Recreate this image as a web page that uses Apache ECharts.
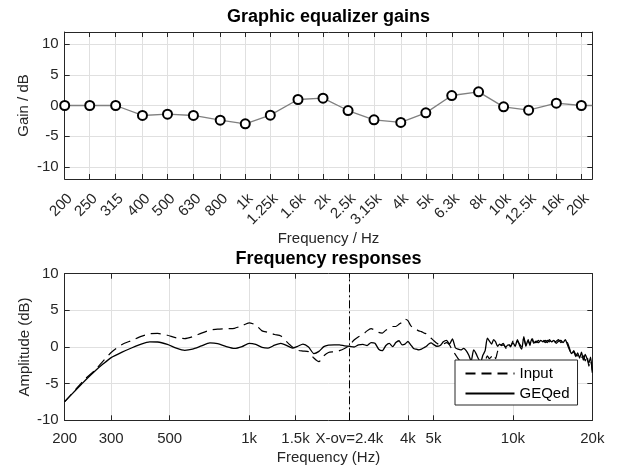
<!DOCTYPE html>
<html><head><meta charset="utf-8">
<script src="https://cdn.jsdelivr.net/npm/echarts@6/dist/echarts.min.js"></script>
<style>html,body{margin:0;padding:0;background:#fff}#c{width:618px;height:470px}</style>
</head><body><div id="c"></div>
<script>
// ---- Graphic equalizer gains ----
const gainFreqs = [200,250,315,400,500,630,800,1000,1250,1600,2000,2500,3150,4000,5000,6300,8000,10000,12500,16000,20000];
const gainLabels = ['200','250','315','400','500','630','800','1k','1.25k','1.6k','2k','2.5k','3.15k','4k','5k','6.3k','8k','10k','12.5k','16k','20k'];
const gainValues = [0,0,0,-1.63,-1.41,-1.63,-2.39,-2.99,-1.58,0.98,1.2,-0.82,-2.34,-2.77,-1.2,1.63,2.23,-0.22,-0.76,0.38,0];
const edgeFreq = 22050;
const edgeGain = 0;
const gainTicks = [-10,-5,0,5,10];

// ---- Frequency responses ----
const respFreqs = [
  200,220,240,260,280,300,330,360,390,420,
  450,490,530,570,610,660,710,760,820,880,
  940,1000,1060,1120,1180,1250,1320,1390,1460,1530,
  1600,1680,1760,1840,1920,2000,2100,2200,2300,2400,
  2500,2600,2700,2800,2900,3000,3100,3200,3300,3400,
  3500,3600,3700,3800,3900,4000,4100,4200,4300,4400,
  4500,4600,4700,4800,4900,5000,5150,5300,5450,5600,
  5750,5900,6050,6200,6350,6500,6650,6800,6950,7100,
  7250,7400,7550,7700,7850,8000,8150,8300,8450,8600,
  8750,8900,9050,9200,9400,9600,9800,10000,10200,10400,
  10600,10800,11000,11200,11400,11600,11800,12000,12250,12500,
  12750,13000,13250,13500,13750,14000,14300,14600,14900,15200,
  15500,15800,16100,16400,16700,17000,17300,17600,17900,18200,
  18500,18800,19100,19400,19700,20000];
const inputDb = [
  -7.45,-5.8,-4.3,-3.2,-1.9,-0.75,0.35,0.9,1.45,1.8,
  1.85,1.6,1.25,1.15,1.4,1.9,2.3,2.45,2.5,2.55,
  2.9,3.3,3.0,2.2,2.0,1.7,1.5,0.7,0.0,-0.45,
  -0.55,-0.65,-1.5,-2.0,-1.2,-0.75,-0.65,-0.5,-0.2,0.25,
  0.95,1.4,1.7,2.2,2.5,2.3,2.0,1.9,2.3,2.6,
  2.8,2.8,3.1,3.4,3.8,3.6,2.9,2.6,2.4,2.2,
  2.1,1.9,1.8,1.5,1.2,0.9,0.5,0.3,0.4,0.6,
  0.3,-0.5,-1.0,-1.6,-2.0,-2.3,-2.0,-2.5,-2.2,-2.6,
  -2.3,-2.0,-2.4,-2.1,-1.9,-1.2,-1.6,-1.3,-1.0,-1.6,
  -0.6,-0.2,0.3,0.5,-0.2,0.5,0.0,0.8,0.3,0.8,
  0.4,0.0,1.2,0.3,1.1,0.2,1.3,0.7,0.6,0.9,
  0.7,1.0,0.6,0.9,0.7,1.0,0.6,0.8,1.0,0.6,
  0.9,0.7,0.6,-0.2,-1.1,-0.5,-1.0,-1.2,-0.9,-1.4,
  -1.2,-1.9,-1.2,-2.6,-1.8,-3.2];
const geqDb = [
  -7.45,-5.9,-4.5,-3.3,-2.3,-1.45,-0.7,-0.1,0.4,0.7,
  0.68,0.35,-0.15,-0.45,-0.3,0.15,0.55,0.45,0.05,-0.2,
  0.05,0.5,0.35,-0.05,-0.15,0.25,0.5,0.2,-0.15,0.1,
  0.4,0.0,-0.9,-0.6,0.05,0.25,0.3,0.3,0.15,0.1,
  0.0,0.3,0.35,0.2,0.6,0.5,-0.3,-0.5,0.2,0.5,
  0.05,0.6,0.85,0.3,0.4,0.75,0.3,-0.2,-0.3,-0.4,
  -0.3,-0.1,0.1,0.4,0.55,0.35,0.1,0.2,0.7,0.9,
  0.4,1.1,-0.1,-0.3,-0.4,-0.2,-0.5,-1.1,-1.9,-0.4,
  -0.9,-1.6,-2.0,-1.1,-0.5,1.2,0.8,0.4,1.0,0.7,
  0.1,0.4,0.2,0.3,0.0,0.3,0.15,0.6,0.1,1.0,
  0.2,-0.3,1.4,0.1,0.9,0.4,1.1,0.5,0.8,0.6,
  0.9,0.7,0.9,0.6,1.0,0.7,0.9,0.5,0.8,0.9,
  0.6,1.0,0.3,-0.4,-0.9,-0.6,-1.3,-0.8,-1.5,-0.7,
  -1.8,-1.0,-1.6,-2.2,-1.4,-3.5];
const respTickFreqs = [200,300,500,1000,1500,2400,4000,5000,10000,20000];
const respTickLabels = ['200','300','500','1k','1.5k','X-ov=2.4k','4k','5k','10k','20k'];
const crossoverFreq = 2400;
const ampTicks = [-10,-5,0,5,10];

// ---- build ----
const lg = Math.log10;
const FONT = "'Liberation Sans', Arial, Helvetica, sans-serif";
const AX = '#262626';
const GRIDC = '#e0e0e0';

const gainTickVals = gainFreqs.map(lg);
const respTickVals = respTickFreqs.map(lg);

function labelFor(freqs, labels) {
  return v => {
    for (let i = 0; i < freqs.length; i++) if (Math.abs(lg(freqs[i]) - v) < 1e-6) return labels[i];
    return '';
  };
}
const axisLine = {show: true, onZero: false, lineStyle: {color: AX, width: 1}};
const inTick = vals => ({show: true, inside: true, length: 5, lineStyle: {color: AX, width: 1}, customValues: vals});
const labelStyle = {fontSize: 15, color: AX, fontFamily: FONT};
const nameStyle = {fontSize: 15, color: AX, fontFamily: FONT};

function mirrorX(gridIndex, min, max, vals) {
  return {gridIndex, type: 'value', position: 'top', min, max, axisLine, axisTick: inTick(vals),
          axisLabel: {show: false}, splitLine: {show: false}};
}
function mirrorY(gridIndex, min, max, vals) {
  return {gridIndex, type: 'value', position: 'right', min, max, axisLine, axisTick: inTick(vals),
          axisLabel: {show: false}, splitLine: {show: false}};
}

const gainData = gainFreqs.map((f, i) => [lg(f), gainValues[i]]);
gainData.push({value: [lg(edgeFreq), edgeGain], symbol: 'none'});

const option = {
  animation: false,
  textStyle: {fontFamily: FONT},
  title: [
    {text: 'Graphic equalizer gains', left: 328.5, top: 8, textAlign: 'center', padding: 0,
     textStyle: {fontSize: 18, fontWeight: 'bold', color: '#000', fontFamily: FONT}},
    {text: 'Frequency responses', left: 328.5, top: 250, textAlign: 'center', padding: 0,
     textStyle: {fontSize: 18, fontWeight: 'bold', color: '#000', fontFamily: FONT}}
  ],
  grid: [
    {left: 64.7, top: 32, width: 527.6, height: 147},
    {left: 64.7, top: 273.7, width: 527.6, height: 146.6}
  ],
  xAxis: [
    {gridIndex: 0, type: 'value', position: 'bottom', min: lg(200), max: lg(edgeFreq),
     axisLine, axisTick: inTick(gainTickVals),
     axisLabel: Object.assign({customValues: gainTickVals, formatter: labelFor(gainFreqs, gainLabels),
                               rotate: 45, margin: 12, verticalAlign: 'top'}, labelStyle),
     splitLine: {show: true, lineStyle: {color: GRIDC, width: 1}},
     name: 'Frequency / Hz', nameLocation: 'middle', nameGap: 52, nameMoveOverlap: false, nameTextStyle: nameStyle},
    mirrorX(0, lg(200), lg(edgeFreq), gainTickVals),
    {gridIndex: 1, type: 'value', position: 'bottom', min: lg(200), max: lg(20000),
     axisLine, axisTick: inTick(respTickVals),
     axisLabel: Object.assign({customValues: respTickVals, formatter: labelFor(respTickFreqs, respTickLabels), margin: 11}, labelStyle),
     splitLine: {show: true, lineStyle: {color: GRIDC, width: 1}},
     name: 'Frequency (Hz)', nameLocation: 'middle', nameGap: 30, nameMoveOverlap: false, nameTextStyle: nameStyle},
    mirrorX(1, lg(200), lg(20000), respTickVals)
  ],
  yAxis: [
    {gridIndex: 0, type: 'value', position: 'left', min: -12, max: 12,
     axisLine, axisTick: inTick(gainTicks),
     axisLabel: Object.assign({customValues: gainTicks, margin: 6}, labelStyle),
     splitLine: {show: true, lineStyle: {color: GRIDC, width: 1}},
     name: 'Gain / dB', nameLocation: 'middle', nameGap: 33.5, nameMoveOverlap: false, nameTextStyle: nameStyle},
    mirrorY(0, -12, 12, gainTicks),
    {gridIndex: 1, type: 'value', position: 'left', min: -10, max: 10,
     axisLine, axisTick: inTick(ampTicks),
     axisLabel: Object.assign({customValues: ampTicks, margin: 6}, labelStyle),
     splitLine: {show: true, lineStyle: {color: GRIDC, width: 1}},
     name: 'Amplitude (dB)', nameLocation: 'middle', nameGap: 32, nameMoveOverlap: false, nameTextStyle: nameStyle},
    mirrorY(1, -10, 10, ampTicks)
  ],
  legend: {
    data: ['Input', 'GEQed'], orient: 'vertical', left: 455, top: 360,
    padding: [6, 8, 4, 9.5], itemGap: 5, itemWidth: 49, itemHeight: 14,
    backgroundColor: '#fff', borderColor: AX, borderWidth: 1, borderRadius: 0,
    itemStyle: {color: 'rgba(0,0,0,0)', borderColor: 'rgba(0,0,0,0)', borderWidth: 0},
    textStyle: {fontSize: 15, color: '#000', fontFamily: FONT}
  },
  series: [
    {name: 'gains', type: 'line', xAxisIndex: 0, yAxisIndex: 0, data: gainData,
     symbol: 'emptyCircle', symbolSize: 9, showAllSymbol: true,
     lineStyle: {color: '#808080', width: 1.3},
     itemStyle: {color: '#000', borderColor: '#000', borderWidth: 2.2}, z: 3},
    {name: 'Input', type: 'line', xAxisIndex: 2, yAxisIndex: 2,
     data: respFreqs.map((f, i) => [lg(f), inputDb[i]]),
     symbol: 'none', smooth: 0.2, lineStyle: {color: '#000', width: 1.2, type: [10, 6]}, itemStyle: {color: '#000'}},
    {name: 'GEQed', type: 'line', xAxisIndex: 2, yAxisIndex: 2,
     data: respFreqs.map((f, i) => [lg(f), geqDb[i]]),
     symbol: 'none', smooth: 0.2, lineStyle: {color: '#000', width: 1.3}, itemStyle: {color: '#000'},
     markLine: {silent: true, symbol: ['none', 'none'], label: {show: false}, animation: false,
       lineStyle: {color: '#000', width: 1, type: [8, 3, 2, 3]},
       data: [{xAxis: lg(crossoverFreq)}]}}
  ]
};
const chart = echarts.init(document.getElementById('c'));
chart.setOption(option);
</script>
</body></html>
